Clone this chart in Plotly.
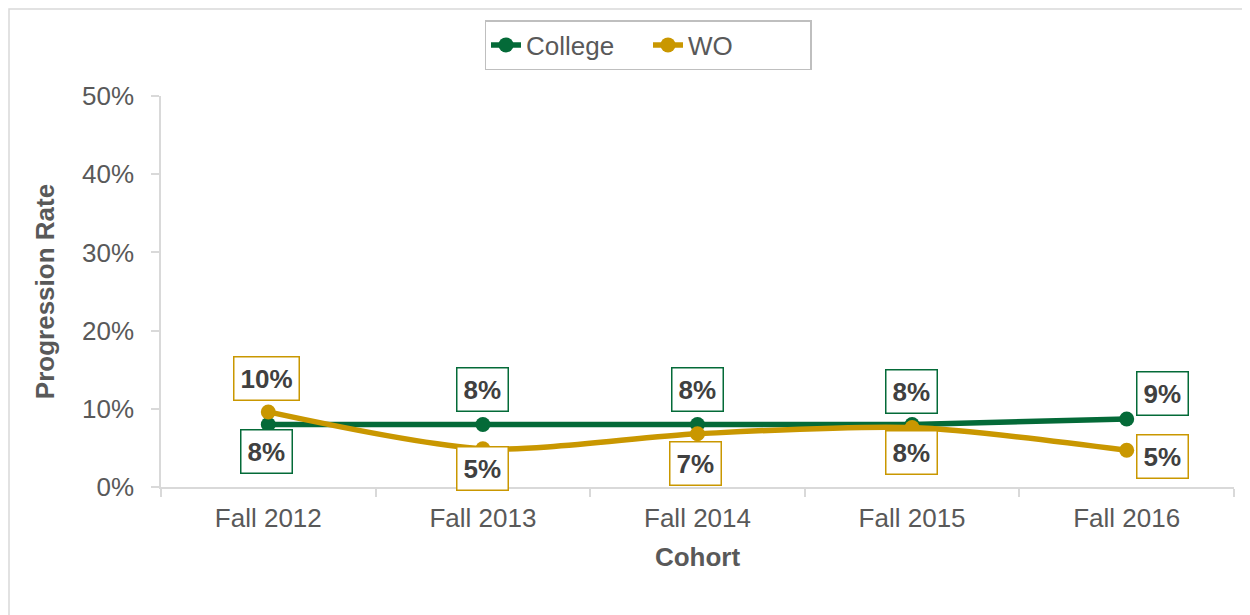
import plotly.graph_objects as go

cohorts = ["Fall 2012", "Fall 2013", "Fall 2014", "Fall 2015", "Fall 2016"]
college = [0.080, 0.080, 0.080, 0.080, 0.087]
wo = [0.096, 0.049, 0.068, 0.076, 0.047]
y_ticks = [0, 0.1, 0.2, 0.3, 0.4, 0.5]
y_tick_labels = ["0%", "10%", "20%", "30%", "40%", "50%"]

GREEN = "#046A38"
GOLD = "#C99700"
TXT = "#595959"
FONT = "Liberation Sans, Arial, sans-serif"

fig = go.Figure()
fig.add_trace(go.Scatter(x=cohorts, y=college, name="College", mode="lines+markers",
                         line=dict(color=GREEN, width=5.5), marker=dict(size=15, color=GREEN)))
fig.add_trace(go.Scatter(x=cohorts, y=wo, name="WO", mode="lines+markers",
                         line=dict(color=GOLD, width=5.5, shape="spline", smoothing=0.8),
                         marker=dict(size=15, color=GOLD)))

# label offsets (pixels) per point
college_off = [(-2, -27), (0, 35), (0, 35), (-1, 33), (36, 25)]
wo_off = [(-2, 33), (0, -20), (-2, -30), (-1, -25), (36, -6)]

annotations = []
for vals, offs, col in [(college, college_off, GREEN), (wo, wo_off, GOLD)]:
    for c, v, (dx, dy) in zip(cohorts, vals, offs):
        annotations.append(dict(
            x=c, y=v, xref="x", yref="y", text=f"<b>{round(v*100):d}%</b>",
            showarrow=False, xshift=dx, yshift=dy,
            font=dict(family=FONT, size=26, color="#404040"),
            bordercolor=col, borderwidth=1.5, borderpad=6, bgcolor="white"))

W, H = 1250, 615
L, T, R, B = 153, 88, 24, 136
pw, ph = W - L - R, H - T - B

fig.update_layout(
    width=W, height=H,
    margin=dict(l=L, r=R, t=T, b=B, autoexpand=False),
    paper_bgcolor="white", plot_bgcolor="white",
    font=dict(family=FONT, color=TXT),
    showlegend=True,
    legend=dict(orientation="h", xref="container", yref="container",
                x=640 / W, xanchor="center", y=1 - 12 / H, yanchor="top",
                bordercolor="#BFBFBF", borderwidth=1.5, font=dict(size=26, color=TXT),
                entrywidth=117, tracegroupgap=0),
    annotations=annotations,
    shapes=[dict(type="rect", xref="paper", yref="paper",
                 x0=(1 - L) / pw, x1=(W + 10 - L) / pw,
                 y0=-(H + 20 - (H - B)) / ph, y1=1 + (T - 1) / ph,
                 line=dict(color="#D9D9D9", width=1.5), layer="below")],
)

fig.update_xaxes(
    type="category", range=[-0.5, 4.5], showgrid=False, automargin=False,
    showline=True, linecolor="#D9D9D9", linewidth=1.5,
    ticks="outside", tickson="boundaries", ticklen=8, tickcolor="#D9D9D9", tickwidth=1.5,
    tickfont=dict(size=26, color=TXT), ticklabelstandoff=7,
    title=dict(text="<b>Cohort</b>", font=dict(size=26, color=TXT), standoff=16),
)
fig.update_yaxes(
    range=[0, 0.5], tickvals=y_ticks, ticktext=y_tick_labels, showgrid=False, zeroline=False,
    automargin=False,
    showline=True, linecolor="#D9D9D9", linewidth=1.5,
    ticks="outside", ticklen=8, tickcolor="#D9D9D9", tickwidth=1.5,
    tickfont=dict(size=26, color=TXT), ticklabelstandoff=12,
    title=dict(text="<b>Progression Rate</b>", font=dict(size=26, color=TXT), standoff=20),
)

fig.write_html("out.html")
